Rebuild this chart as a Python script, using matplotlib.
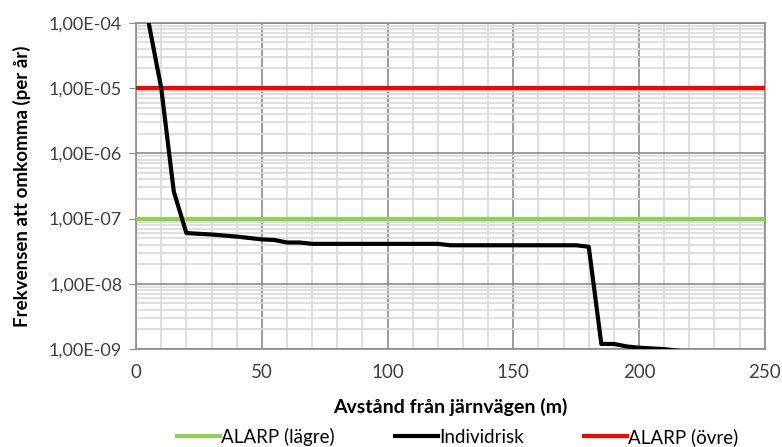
import numpy as np
import matplotlib.pyplot as plt
from matplotlib.ticker import FixedLocator, FuncFormatter

plt.rcParams['font.family'] = ['Lato', 'DejaVu Sans']

# Individrisk (avstånd i m, frekvens per år)
dist = [0, 5, 10, 15, 20, 30, 40, 50, 55, 60, 65, 70, 80, 90, 100, 110, 120, 125,
        130, 140, 150, 160, 170, 175, 180, 185, 190, 195, 200, 210, 220]
risk = [1e-3, 1.0e-4, 1.0e-5, 2.6e-7, 6.0e-8, 5.7e-8, 5.3e-8, 4.8e-8, 4.7e-8, 4.3e-8,
        4.3e-8, 4.1e-8, 4.1e-8, 4.1e-8, 4.1e-8, 4.1e-8, 4.1e-8, 3.9e-8,
        3.9e-8, 3.9e-8, 3.9e-8, 3.9e-8, 3.9e-8, 3.9e-8, 3.7e-8, 1.2e-9, 1.2e-9,
        1.1e-9, 1.05e-9, 1.0e-9, 9.0e-10]

alarp_low = 1e-7
alarp_high = 1e-5
x_range = [0, 250]

fig = plt.figure(figsize=(7.82, 4.47), dpi=100)
ax = fig.add_axes([0.174, 0.219, 0.804, 0.730])

ax.set_yscale('log')
ax.set_xlim(0, 250)
ax.set_ylim(1e-9, 1e-4)

ax.plot(x_range, [alarp_low, alarp_low], color='#92D050', lw=3, label='ALARP (lägre)', zorder=3)
ax.plot(dist, risk, color='black', lw=3, label='Individrisk', zorder=4)
ax.plot(x_range, [alarp_high, alarp_high], color='#FF0000', lw=3, label='ALARP (övre)', zorder=3)

ax.xaxis.set_major_locator(FixedLocator(np.arange(0, 251, 50)))
ax.xaxis.set_minor_locator(FixedLocator(np.arange(0, 251, 10)))
ax.yaxis.set_major_locator(FixedLocator([1e-9, 1e-8, 1e-7, 1e-6, 1e-5, 1e-4]))
ax.yaxis.set_major_formatter(FuncFormatter(lambda v, p: ('%.2E' % v).replace('.', ',')))
ax.yaxis.set_minor_formatter(FuncFormatter(lambda v, p: ''))

ax.grid(which='minor', color='#d9d9d9', lw=1.2)
ax.grid(which='major', color='#8c8c8c', lw=1.2)
ax.set_axisbelow(True)

ax.tick_params(axis='x', which='both', length=0, labelsize=13.5, colors='#404040', pad=11)
ax.tick_params(axis='y', which='major', length=5, color='#8c8c8c', labelsize=13, labelcolor='#404040', pad=5)
ax.tick_params(axis='y', which='minor', length=0)

for s in ax.spines.values():
    s.set_color('#8c8c8c')
    s.set_linewidth(1.2)

ax.set_xlabel('Avstånd från järnvägen (m)', fontsize=14, fontweight='bold', labelpad=12)
ax.set_ylabel('Frekvensen att omkomma (per år)', fontsize=13.5, fontweight='bold', labelpad=13)

fig.legend(loc='lower center', ncol=3, frameon=False, fontsize=13.5, handlelength=2.3,
           handletextpad=0.05, columnspacing=3.2, bbox_to_anchor=(0.585, -0.035))

fig.savefig('out.png', dpi=100)
